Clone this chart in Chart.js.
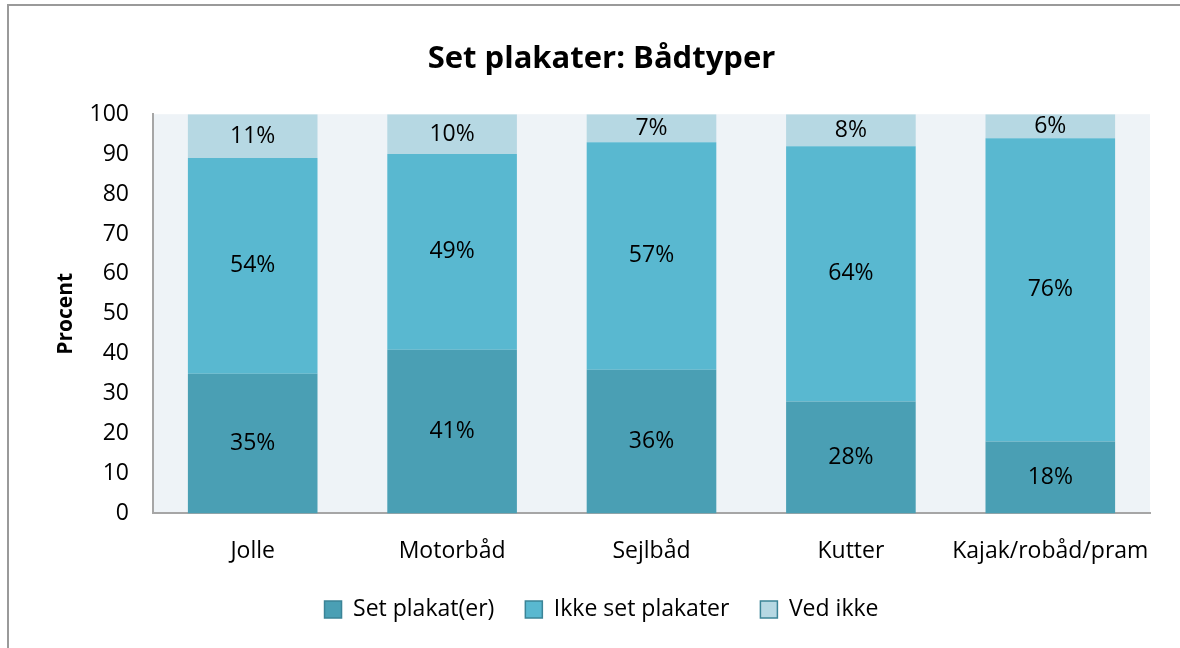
<!DOCTYPE html>
<html>
<head>
<meta charset="utf-8">
<script src="https://cdn.jsdelivr.net/npm/chart.js@4"></script>
<style>
  html, body { margin: 0; padding: 0; background: #fff; overflow: hidden; }
  canvas { display: block; }
</style>
</head>
<body>
<canvas id="myChart" width="1180" height="648"></canvas>
<script>
const boatTypes = ["Jolle", "Motorbåd", "Sejlbåd", "Kutter", "Kajak/robåd/pram"];
const seenPosters = [35, 41, 36, 28, 18];
const notSeenPosters = [54, 49, 57, 64, 76];
const dontKnow = [11, 10, 7, 8, 6];
const yTicks = [0, 10, 20, 30, 40, 50, 60, 70, 80, 90, 100];

const FONT = "'Open Sans'";

// frame around the chart + light plot background
const backdrop = {
  id: "backdrop",
  beforeDraw(chart) {
    const { ctx, chartArea: a } = chart;
    ctx.save();
    ctx.fillStyle = "#fff";
    ctx.fillRect(0, 0, chart.width, chart.height);
    ctx.strokeStyle = "#9a9a9a";
    ctx.lineWidth = 2;
    ctx.beginPath();
    ctx.moveTo(8, chart.height);
    ctx.lineTo(8, 5);
    ctx.lineTo(chart.width, 5);
    ctx.stroke();
    ctx.fillStyle = "#eef3f7";
    ctx.fillRect(a.left, a.top, a.right - a.left, a.bottom - a.top);
    ctx.restore();
  },
};

// percentage labels centred in each segment
const segmentLabels = {
  id: "segmentLabels",
  afterDatasetsDraw(chart) {
    const { ctx } = chart;
    ctx.save();
    ctx.font = "23px " + FONT;
    ctx.fillStyle = "#000";
    ctx.textAlign = "center";
    ctx.textBaseline = "middle";
    chart.data.datasets.forEach((ds, i) => {
      chart.getDatasetMeta(i).data.forEach((bar, j) => {
        const y = (bar.y + bar.base) / 2;
        ctx.fillText(ds.data[j] + "%", bar.x, y);
      });
    });
    ctx.restore();
  },
};

new Chart(document.getElementById("myChart"), {
  type: "bar",
  data: {
    labels: boatTypes,
    datasets: [
      { label: "Set plakat(er)", data: seenPosters, backgroundColor: "#4a9fb4" },
      { label: "Ikke set plakater", data: notSeenPosters, backgroundColor: "#59b8d0" },
      { label: "Ved ikke", data: dontKnow, backgroundColor: "#b6d8e3" },
    ],
  },
  options: {
    responsive: false,
    animation: false,
    layout: { padding: { left: 53, right: 30, top: 0, bottom: 17 } },
    datasets: { bar: { categoryPercentage: 0.65, barPercentage: 1, borderWidth: 0 } },
    scales: {
      x: {
        stacked: true,
        grid: { display: false, drawTicks: false },
        border: { color: "#a6a6a6", width: 2 },
        ticks: { color: "#000", font: { family: FONT, size: 23 }, padding: 24, maxRotation: 0, minRotation: 0, autoSkip: false },
        // let the legend sit closer to the category labels
        afterFit: (s) => { s.height -= 22; },
      },
      y: {
        stacked: true,
        min: 0,
        max: 100,
        afterBuildTicks: (s) => { s.ticks = yTicks.map((v) => ({ value: v })); },
        grid: { display: false, drawTicks: false },
        border: { color: "#a6a6a6", width: 2 },
        ticks: { color: "#000", font: { family: FONT, size: 23 }, padding: 24 },
        title: { display: true, text: "Procent", color: "#000", font: { family: FONT, size: 21, weight: "bold" }, padding: 0 },
        afterFit: (s) => { s.width = 100; },
      },
    },
    plugins: {
      title: {
        display: true,
        text: "Set plakater: Bådtyper",
        color: "#000",
        font: { family: FONT, size: 31, weight: "bold" },
        padding: { top: 41, bottom: 36 },
      },
      legend: {
        position: "bottom",
        labels: {
          color: "#000",
          font: { family: FONT, size: 23 },
          boxWidth: 17,
          boxHeight: 17,
          padding: 31,
          generateLabels(chart) {
            const items = Chart.defaults.plugins.legend.labels.generateLabels(chart);
            items.forEach((it) => { it.lineWidth = 1.5; it.strokeStyle = "#3b8497"; });
            return items;
          },
        },
      },
      tooltip: { enabled: false },
    },
  },
  plugins: [backdrop, segmentLabels],
});
</script>
</body>
</html>
